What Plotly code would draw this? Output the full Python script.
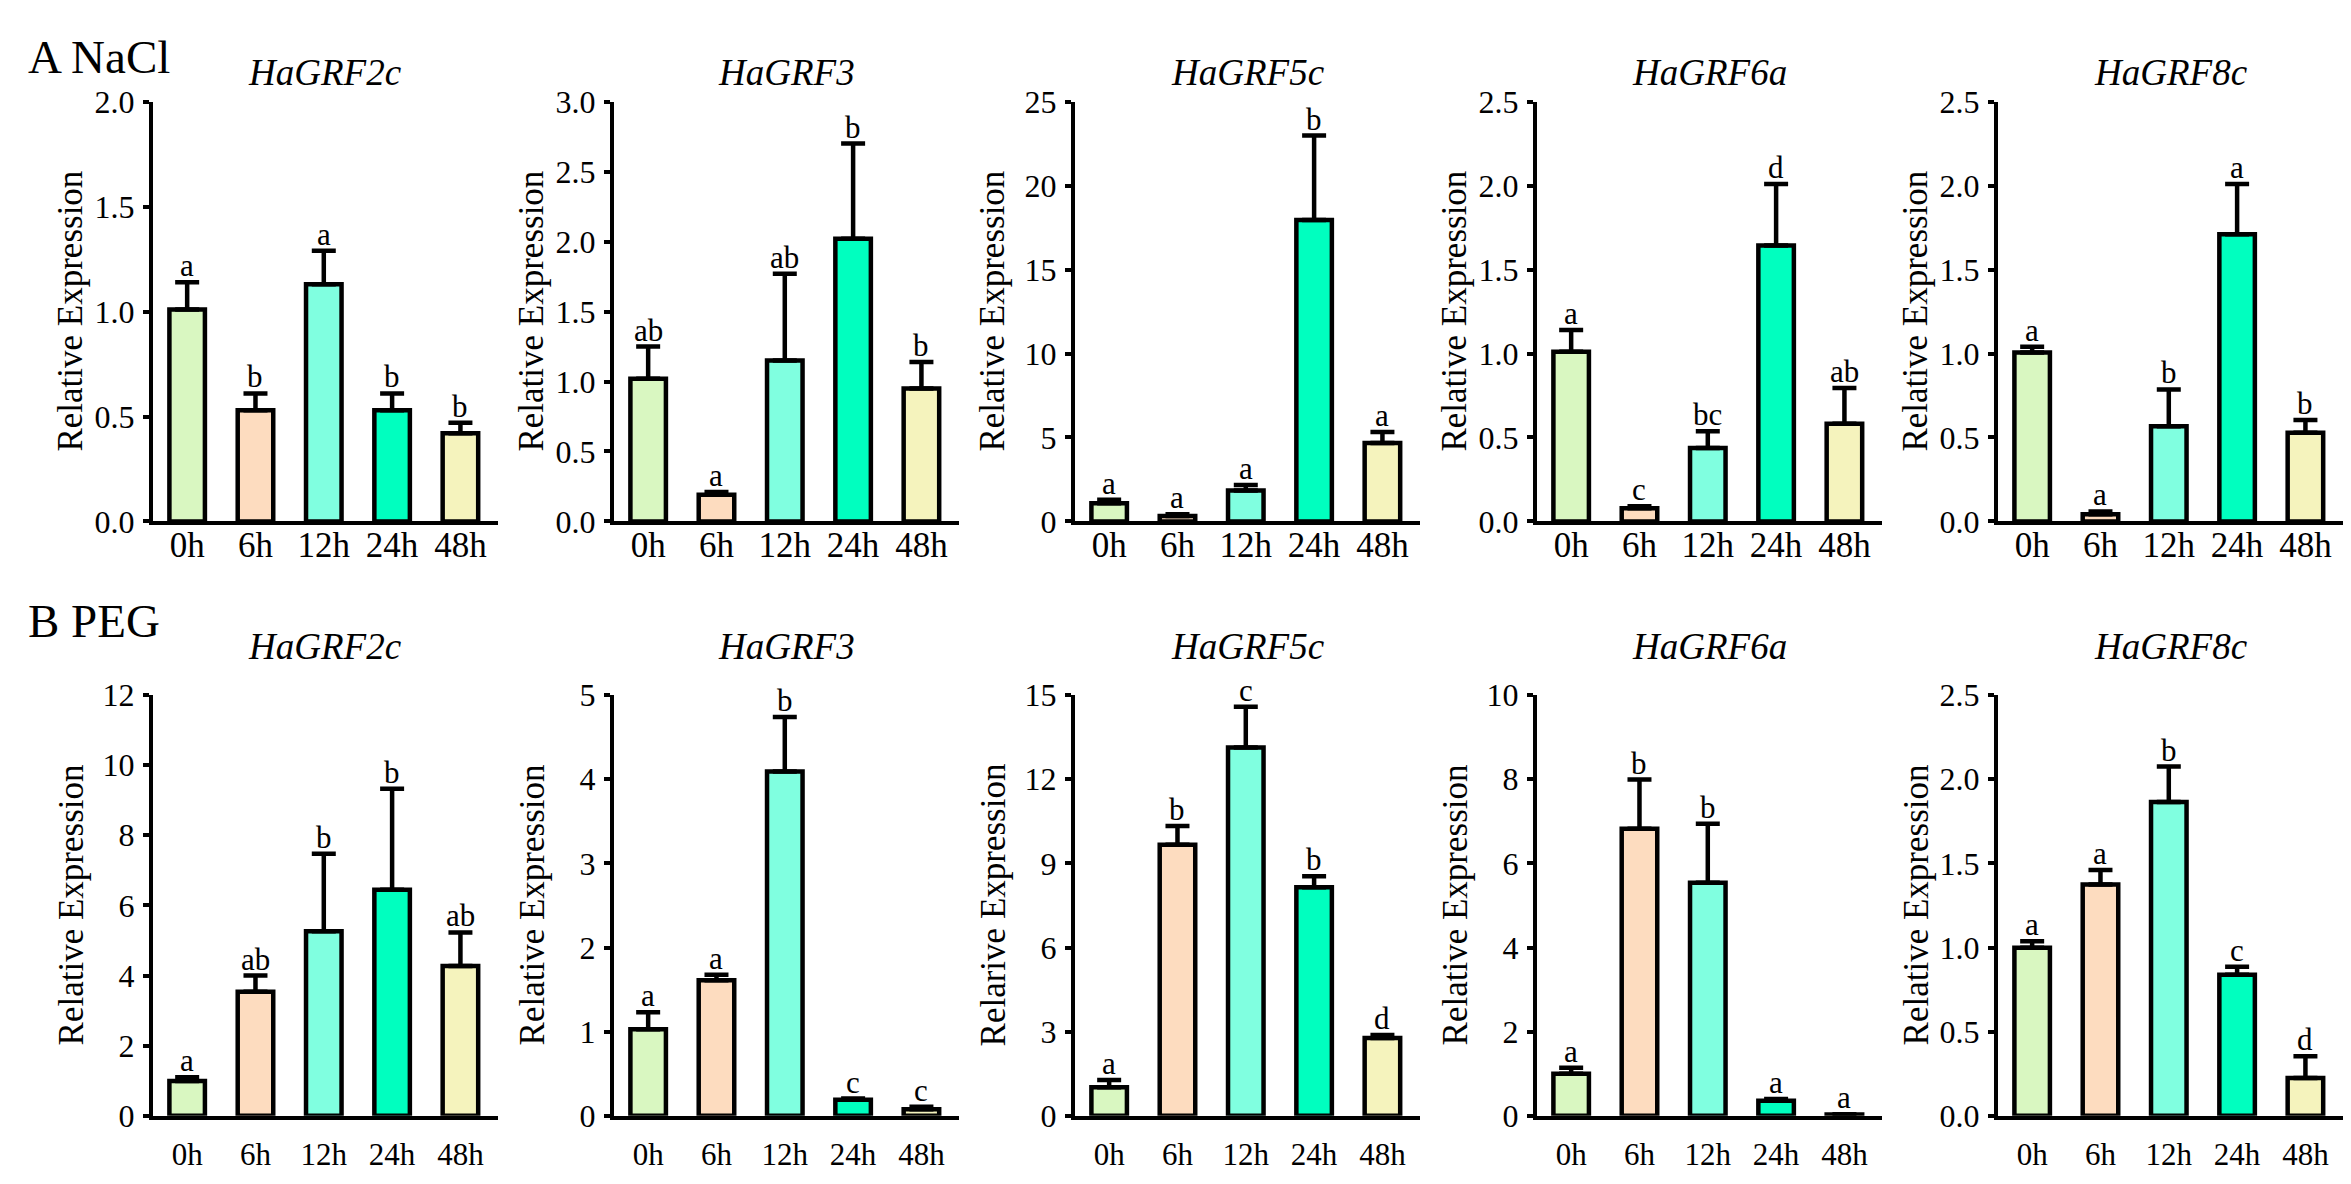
import plotly.graph_objects as go

# time points and bar colours
times = ['0h', '6h', '12h', '24h', '48h']
bar_colors = ['#d9f7c1', '#fddcbf', '#80ffe0', '#00ffbf', '#f5f3bd']

genes = ['HaGRF2c', 'HaGRF3', 'HaGRF5c', 'HaGRF6a', 'HaGRF8c']

# A NaCl (mean, sd, letters)
nacl_mean = [
    [1.01, 0.53, 1.13, 0.53, 0.42],
    [1.02, 0.19, 1.15, 2.02, 0.95],
    [1.08, 0.33, 1.85, 17.95, 4.67],
    [1.01, 0.078, 0.437, 1.644, 0.582],
    [1.006, 0.043, 0.567, 1.711, 0.528],
]
nacl_sd = [
    [0.13, 0.08, 0.16, 0.08, 0.05],
    [0.23, 0.02, 0.62, 0.68, 0.19],
    [0.22, 0.10, 0.32, 5.03, 0.65],
    [0.13, 0.012, 0.10, 0.365, 0.213],
    [0.034, 0.017, 0.219, 0.298, 0.076],
]
nacl_letters = [
    ['a', 'b', 'a', 'b', 'b'],
    ['ab', 'a', 'ab', 'b', 'b'],
    ['a', 'a', 'a', 'b', 'a'],
    ['a', 'c', 'bc', 'd', 'ab'],
    ['a', 'a', 'b', 'a', 'b'],
]
nacl_ymax = [2.0, 3.0, 25, 2.5, 2.5]
nacl_dtick = [0.5, 0.5, 5, 0.5, 0.5]

# B PEG
peg_mean = [
    [0.99, 3.54, 5.26, 6.45, 4.27],
    [1.03, 1.61, 4.09, 0.19, 0.078],
    [1.02, 9.66, 13.13, 8.15, 2.77],
    [1.0, 6.82, 5.54, 0.356, 0.03],
    [0.998, 1.374, 1.864, 0.838, 0.224],
]
peg_sd = [
    [0.11, 0.46, 2.21, 2.88, 0.96],
    [0.20, 0.065, 0.65, 0.015, 0.03],
    [0.26, 0.67, 1.45, 0.39, 0.11],
    [0.14, 1.17, 1.40, 0.045, 0.005],
    [0.039, 0.086, 0.211, 0.047, 0.13],
]
peg_letters = [
    ['a', 'ab', 'b', 'b', 'ab'],
    ['a', 'a', 'b', 'c', 'c'],
    ['a', 'b', 'c', 'b', 'd'],
    ['a', 'b', 'b', 'a', 'a'],
    ['a', 'a', 'b', 'c', 'd'],
]
peg_ymax = [12, 5, 15, 10, 2.5]
peg_dtick = [2, 1, 3, 2, 0.5]
peg_ytitles = ['Relative Expression', 'Relative Expression', 'Relarive Expression',
               'Relative Expression', 'Relative Expression']

W, H = 2351, 1184
FONT = 'Liberation Serif'
axis_left = [145, 606, 1067, 1529, 1990]
axis_w = 345
rows = [
    dict(top=78, bottom=511, mean=nacl_mean, sd=nacl_sd, letters=nacl_letters,
         ymax=nacl_ymax, dtick=nacl_dtick, ytitles=['Relative Expression'] * 5,
         tick_size=35, standoff=-10, title_y=48, label='A NaCl', label_y=32),
    dict(top=690, bottom=1124, mean=peg_mean, sd=peg_sd, letters=peg_letters,
         ymax=peg_ymax, dtick=peg_dtick, ytitles=peg_ytitles,
         tick_size=31, standoff=8, title_y=640, label='B PEG', label_y=614),
]

fig = go.Figure()
annotations = []
n = 0
for r, row in enumerate(rows):
    for c in range(5):
        n += 1
        xa = 'x' if n == 1 else f'x{n}'
        ya = 'y' if n == 1 else f'y{n}'
        means = row['mean'][c]
        sds = row['sd'][c]
        fig.add_trace(go.Bar(
            x=list(range(5)), y=means,
            xaxis=xa, yaxis=ya,
            width=0.52,
            marker=dict(color=bar_colors, line=dict(color='black', width=4.5)),
            error_y=dict(type='data', symmetric=False, array=sds,
                         arrayminus=[0] * 5, color='black', thickness=4.5, width=12),
            showlegend=False,
        ))
        x0 = axis_left[c] / W
        x1 = (axis_left[c] + axis_w) / W
        y0 = 1 - row['bottom'] / H
        y1 = 1 - row['top'] / H
        fmt = '.1f' if row['dtick'][c] < 1 else 'd'
        fig.layout[f'xaxis{"" if n == 1 else n}'] = dict(
            domain=[x0, x1], anchor=ya, range=[-0.5, 4.55],
            tickmode='array', tickvals=list(range(5)), ticktext=times,
            showline=True, linecolor='black', linewidth=4, ticks='',
            ticklabelstandoff=row['standoff'],
            tickfont=dict(family=FONT, size=row['tick_size'], color='black'),
            showgrid=False, zeroline=False, fixedrange=True)
        fig.layout[f'yaxis{"" if n == 1 else n}'] = dict(
            domain=[y0, y1], anchor=xa, range=[0, row['ymax'][c]],
            dtick=row['dtick'][c], tick0=0, tickformat=fmt,
            showline=True, linecolor='black', linewidth=4,
            ticks='outside', ticklen=6, tickwidth=4, tickcolor='black',
            ticklabelstandoff=2,
            tickfont=dict(family=FONT, size=32, color='black'),
            showgrid=False, zeroline=False, fixedrange=True)
        # significance letters
        for i in range(5):
            annotations.append(dict(
                x=i, y=means[i] + sds[i], xref=xa, yref=ya,
                text=row['letters'][c][i], showarrow=False,
                yanchor='bottom', yshift=-3,
                font=dict(family=FONT, size=31, color='black')))
        # gene title
        annotations.append(dict(
            x=(x0 + x1) / 2, y=1 - row['title_y'] / H, xref='paper', yref='paper',
            text=f'<i>{genes[c]}</i>', showarrow=False,
            xanchor='center', yanchor='middle',
            font=dict(family=FONT, size=37, color='black')))
        # y title
        annotations.append(dict(
            x=(axis_left[c] - 82) / W, y=(y0 + y1) / 2, xref='paper', yref='paper',
            text=row['ytitles'][c], showarrow=False, textangle=-90,
            xanchor='center', yanchor='middle',
            font=dict(family=FONT, size=35, color='black')))
    annotations.append(dict(
        x=18 / W, y=1 - row['label_y'] / H, xref='paper', yref='paper',
        text=row['label'], showarrow=False, xanchor='left', yanchor='middle',
        font=dict(family=FONT, size=47, color='black')))

fig.update_layout(
    width=W, height=H,
    margin=dict(l=0, r=0, t=0, b=0),
    paper_bgcolor='white', plot_bgcolor='white',
    annotations=annotations,
)

fig.write_html("out.html")
